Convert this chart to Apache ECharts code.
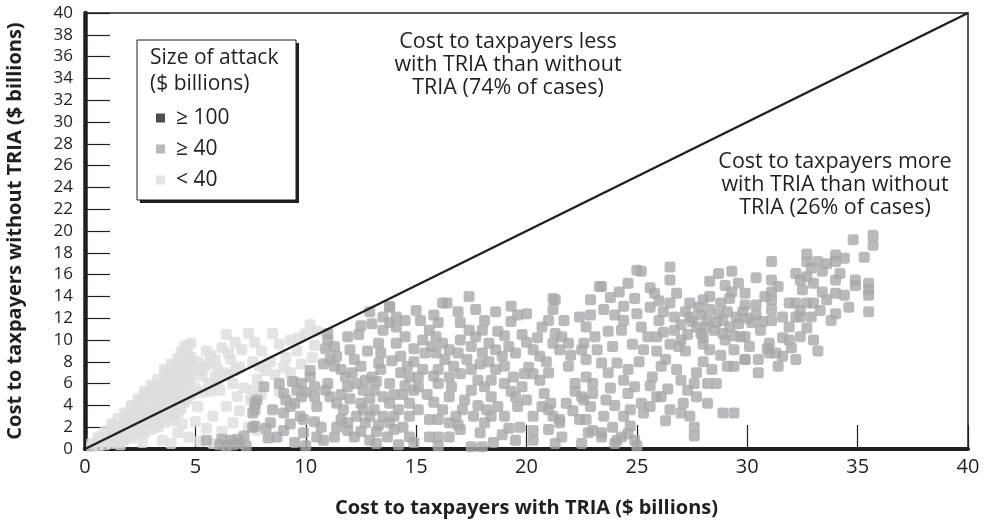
<!DOCTYPE html>
<html>
<head>
<meta charset="utf-8">
<script src="https://cdn.jsdelivr.net/npm/echarts@6/dist/echarts.min.js"></script>
<style>
html,body{margin:0;padding:0;background:#fff;}
#chart{width:984px;height:524px;}
</style>
</head>
<body>
<div id="chart"></div>
<script>
// ---- Data ----
var xTicks = [0, 5, 10, 15, 20, 25, 30, 35, 40];
var yTicks = [0, 2, 4, 6, 8, 10, 12, 14, 16, 18, 20, 22, 24, 26, 28, 30, 32, 34, 36, 38, 40];
var legendNames = ['\u2265 100', '\u2265 40', '< 40'];
var diagonal = [[0, 0], [40, 40]];

// attacks >= $100 billion (none visible)
var pointsGe100 = [];

// attacks < $40 billion
var pointsLt40 = [
[0.3,0.2],[0.3,0.5],
[0.6,0.3],[0.6,0.8],[0.6,1.1],
[0.9,0.4],[0.9,1.0],[0.9,1.6],
[1.2,0.5],[1.2,1.2],[1.2,1.9],[1.2,2.3],
[1.5,0.6],[1.5,1.3],[1.5,2.0],[1.5,2.8],
[1.8,0.9],[1.8,1.6],[1.8,2.4],[1.8,3.3],
[2.1,1.0],[2.1,1.8],[2.1,2.7],[2.1,3.5],[2.1,4.0],
[2.4,1.3],[2.4,2.1],[2.4,3.0],[2.4,3.8],[2.4,4.6],
[2.7,1.5],[2.7,2.4],[2.7,3.3],[2.7,4.1],[2.7,4.9],[2.7,5.3],
[3.0,1.8],[3.0,2.7],[3.0,3.5],[3.0,4.4],[3.0,5.2],[3.0,5.9],
[3.3,2.0],[3.3,3.0],[3.3,3.9],[3.3,4.7],[3.3,5.6],[3.3,6.4],
[3.6,2.4],[3.6,3.3],[3.6,4.2],[3.6,5.1],[3.6,6.0],[3.6,6.9],[3.6,7.3],
[3.9,2.9],[3.9,3.8],[3.9,4.6],[3.9,5.5],[3.9,6.3],[3.9,7.2],[3.9,7.8],
[4.2,3.2],[4.2,4.1],[4.2,5.0],[4.2,5.9],[4.2,6.8],[4.2,7.6],[4.2,8.3],
[4.5,4.3],[4.5,5.3],[4.5,6.2],[4.5,7.0],[4.5,7.9],[4.5,8.7],[4.5,9.4],
[4.8,5.0],[4.8,6.5],[4.8,7.5],[4.8,8.4],[4.8,9.7],
[1.35,0.9],[1.35,1.6],[1.95,1.3],[1.95,2.1],[1.95,3.0],[2.55,1.9],[2.55,2.8],[2.55,3.6],[2.55,4.4],
[3.15,2.3],[3.15,3.1],[3.15,4.0],[3.15,4.8],[3.15,5.6],[3.75,2.8],[3.75,3.7],[3.75,4.5],[3.75,5.4],
[3.75,6.3],[3.75,7.1],[4.35,3.7],[4.35,4.6],[4.35,5.5],[4.35,6.4],[4.35,7.3],[4.35,8.1],[4.35,8.9],
[4.65,4.6],[4.65,5.8],[4.65,6.8],[4.65,7.7],[4.65,8.6],[4.65,9.5],
[1.6,0.4],[1.7,0.8],[2.5,1.7],[2.6,0.6],[3.5,0.8],[3.9,0.5],[4.2,1.5],[4.7,1.1],[5.2,0.7],[5.8,0.5],
[5.5,1.9],[4.4,2.3],[4.0,2.6],[5.0,2.5],[5.8,3.0],[6.2,1.6],[6.7,2.4],[5.1,3.9],[6.4,3.9],[4.6,4.8],
[6.1,5.4],[6.9,4.8],[5.6,6.0],[6.7,6.0],[5.3,6.7],[7.0,7.5],[6.0,7.4],[5.1,8.0],[5.7,8.6],[6.6,8.2],
[5.5,9.0],[6.2,9.3],[7.1,9.1],[6.4,10.5],[7.4,10.6],[7.6,8.0],[8.0,9.0],[8.5,10.6],[8.2,7.2],[8.8,9.6],
[9.1,8.4],[9.3,10.0],[9.6,9.0],[10.0,10.6],[10.2,11.4],[10.5,10.8],[9.8,7.8],[9.3,7.0],[8.6,6.8],[7.8,6.4],
[7.2,5.6],[7.5,4.5],[7.0,3.5],[7.4,2.0],[8.0,5.0],[8.8,5.3],[9.5,6.2],[10.4,9.5],[10.3,8.4],[7.6,5.4],
[7.9,7.6],[7.7,9.8],[8.4,8.0],[9.0,7.5],[9.7,10.2],[7.8,1.7],[7.6,4.5],[5.3,5.2],[5.9,6.6],[6.3,7.0],
[6.8,9.8],[5.4,7.5],[5.0,5.6],[5.2,7.2],[5.6,7.8],[5.9,8.2],[6.5,8.8],[5.7,5.3],[6.0,6.2],[6.5,6.8],[6.8,7.2]
];

// attacks >= $40 billion
var pointsGe40 = [
[5.5,0.8],[6.1,0.4],[6.4,0.3],[6.7,0.4],[7.0,0.5],[6.9,0.9],[7.2,1.2],[7.3,0.3],[6.2,0.9],[6.6,0.8],
[7.6,2.0],[8.2,1.9],[8.1,5.7],[7.6,3.3],[7.8,4.5],[8.5,3.6],
[7.7,4.2],[7.7,3.6],[7.7,2.1],[8.4,2.4],[9.0,5.1],[9.1,4.5],[9.3,3.9],[9.0,3.3],[8.7,1.1],[9.0,1.7],
[9.6,5.4],[9.75,3.0],[9.9,2.7],[10.2,6.6],[10.4,5.7],[10.4,4.8],[10.5,3.9],[10.2,7.2],[10.5,1.1],[10.8,0.8],
[10.7,2.0],[11.0,10.0],[11.0,10.6],[11.1,8.2],[11.4,8.5],[11.3,7.6],[11.6,7.3],[11.0,6.0],[11.1,4.8],[11.4,4.2],
[11.7,3.6],[11.6,2.7],[11.4,2.0],[11.3,1.1],[11.9,10.3],[12.0,9.1],[12.2,8.2],[12.5,7.6],[11.9,5.7],[12.3,6.0],
[12.6,5.4],[12.7,6.3],[12.5,4.2],[12.6,3.6],[12.3,3.0],[12.7,2.4],[11.9,1.7],[12.2,1.1],[12.9,0.8],[13.3,9.7],
[13.4,8.8],[13.3,7.9],[13.4,7.3],[13.5,10.9],[13.8,13.0],[13.5,12.1],[14.1,11.2],[14.1,9.7],[14.3,8.5],[14.3,7.0],
[13.8,6.0],[13.5,4.8],[13.8,4.2],[13.5,3.0],[13.8,2.4],[13.7,1.1],[14.7,6.6],[14.9,5.4],[14.7,4.2],[14.7,3.0],
[14.7,1.1],[14.1,12.1],[13.2,0.5],[14.2,0.4],[14.0,1.8],[10.0,0.3],[9.5,0.6],[12.9,12.6],[13.0,11.5],[12.8,9.0],
[14.5,10.3],[14.9,8.0],[9.4,6.2],[8.8,6.0],[10.9,9.2],[12.4,10.5],
[9.5,4.2],[9.8,4.8],[10.0,5.2],[10.9,5.4],[11.6,5.0],[12.0,4.6],[12.9,4.6],[13.1,5.4],[13.1,3.6],[12.9,3.0],
[14.2,3.6],[14.4,2.0],[11.8,6.6],[12.1,7.0],[13.0,6.6],[14.4,5.0],[14.9,9.2],[14.5,11.8],[13.8,11.6],[12.5,11.3],
[11.3,9.4],[10.8,7.8],[9.9,1.5],[10.4,2.5],[11.9,2.4],[12.5,1.6],[13.2,1.6],[14.9,0.6],[8.3,1.0],[9.3,2.3],[9.8,6.0],
[13.2,6.2],[14.0,5.0],[14.5,5.8],[14.0,3.0],[13.3,2.2],[14.6,7.6],[13.9,8.1],
[17.4,14.0],[16.4,13.4],[15.8,12.3],[16.9,12.6],[17.7,12.8],[18.1,11.8],[18.6,12.6],[19.3,13.1],[19.3,11.7],[21.3,13.7],
[21.2,12.8],[21.0,11.8],[20.7,11.2],[21.3,10.6],[21.6,10.3],[21.2,9.7],[21.5,9.1],[21.9,9.7],[20.3,9.1],[20.6,8.5],
[22.4,12.1],[22.5,9.1],[15.6,10.9],[15.9,10.3],[16.2,9.7],[16.5,9.1],[15.7,9.4],[16.3,8.2],[16.0,7.3],[16.5,6.6],
[16.6,5.7],[16.5,4.8],[16.9,8.8],[17.4,10.9],[17.7,10.3],[17.5,9.4],[18.0,8.8],[18.3,9.7],[18.6,9.1],[18.9,8.5],
[19.2,9.4],[19.5,8.8],[17.5,7.3],[17.8,6.3],[18.1,5.7],[18.4,6.3],[18.6,7.3],[17.5,5.4],[17.2,4.5],[17.1,3.6],
[18.4,4.8],[18.7,3.9],[18.4,3.0],[19.0,3.0],[18.1,2.4],[19.5,4.8],[19.8,5.7],[19.6,3.9],[19.5,0.8],[20.3,6.9],
[20.6,6.3],[20.7,3.9],[21.0,3.6],[21.2,3.0],[21.5,2.4],[20.3,1.7],[21.6,1.1],[21.3,0.5],[21.9,7.6],[22.2,6.0],
[22.5,4.8],[22.4,2.7],[22.5,0.5],[15.4,8.8],[15.3,7.3],[15.1,6.6],[15.1,5.7],[15.1,3.6],[15.6,2.7],[16.0,2.7],
[16.5,2.4],[15.6,1.1],[16.0,1.1],[16.5,1.1],[17.5,0.2],[18.0,0.2],[16.8,3.0],[16.2,3.6],[16.2,13.4],[19.8,10.5],
[20.0,12.4],[19.0,10.4],[20.1,7.5],[19.0,6.0],[17.0,11.6],[15.2,11.8],[16.0,0.3],[19.7,2.0],[20.3,0.8],[20.8,5.1],
[18.9,1.3],[17.9,1.5],[15.0,12.7],[13.8,13.1],[21.2,13.8],[23.4,14.9],[25.0,16.4],[24.6,15.2],
[22.8,1.5],[23.4,1.5],[24.1,0.8],[24.9,0.8],[21.1,4.2],[21.5,2.7],
[15.3,10.0],[15.9,8.8],[16.7,7.6],[17.0,6.9],[17.3,8.2],[17.9,7.8],[18.3,8.0],[19.0,7.6],[19.4,6.6],[19.9,6.9],
[20.0,4.5],[20.3,3.0],[20.0,9.8],[18.0,10.9],[18.7,10.8],[17.0,10.0],[16.0,11.6],[19.6,12.3],[20.5,10.2],[21.7,11.8],
[22.0,8.6],[21.0,7.0],[20.9,8.0],[22.2,5.3],[21.8,4.2],[22.1,3.5],[21.0,1.8],[19.2,1.9],[18.5,0.6],[17.0,1.8],
[16.9,2.2],[15.8,4.3],[15.5,5.0],[16.0,6.0],[15.8,6.7],[17.8,4.0],[18.2,3.6],[19.3,5.3],[17.6,3.0],
[26.5,16.7],[25.2,16.3],[26.5,15.5],[29.3,16.3],[29.6,15.2],[28.3,15.4],[29.3,14.4],[29.9,14.3],
[23.3,14.9],[22.9,13.7],[23.5,12.8],[22.7,11.2],[23.7,10.8],[24.9,13.8],[24.4,13.1],[24.4,11.8],[24.3,10.9],[25.0,12.4],
[25.2,11.2],[25.5,10.3],[25.9,10.3],[25.3,9.1],[25.8,14.3],[26.8,14.3],[26.5,13.4],[26.7,12.1],[26.7,10.9],[27.0,10.0],
[27.4,13.4],[27.4,12.1],[27.7,11.2],[27.9,10.6],[28.3,14.0],[28.3,12.8],[28.2,11.8],[28.5,10.9],[28.3,9.1],[28.0,8.0],
[28.8,13.4],[28.9,11.8],[29.2,11.2],[29.5,12.1],[29.7,10.3],[29.4,9.1],[29.9,8.2],[29.1,7.6],[29.4,7.6],
[22.6,9.7],[22.7,8.2],[23.2,9.1],[23.4,7.9],[23.7,7.0],[24.1,7.9],[24.6,7.3],[24.4,6.3],[24.9,5.7],[24.6,5.1],
[23.0,6.0],[22.7,6.6],[23.0,5.1],[22.6,4.5],[22.9,3.9],[26.1,7.6],[25.9,4.8],[25.6,3.9],[25.3,3.3],[25.2,4.2],
[24.7,3.6],[24.4,3.0],[24.7,2.1],[24.3,1.1],[24.0,0.5],[23.4,1.1],[23.0,1.7],[22.7,2.7],
[26.8,7.3],[27.0,6.3],[27.3,5.4],[27.1,4.2],[27.0,3.3],[27.6,6.0],[27.7,4.8],[28.2,4.2],[27.6,2.0],[27.6,1.2],
[27.4,3.0],[28.6,6.0],[28.2,6.0],[28.9,3.3],[29.4,3.3],[25.0,0.3],[24.6,1.4],[26.1,4.8],
[23.8,13.9],[24.0,12.3],[25.6,13.0],[26.0,11.8],[26.2,12.6],[27.0,11.4],[27.2,9.0],[26.5,9.6],[25.9,9.0],[26.3,8.2],
[25.1,8.0],[24.8,9.6],[23.9,9.4],[23.1,10.3],[22.9,12.3],[27.7,7.0],[28.4,7.3],[28.8,8.6],[29.0,10.0],[28.0,9.6],
[27.8,13.0],[29.0,15.0],[28.7,16.1],[25.6,14.8],[24.2,14.4],[23.6,4.5],[24.0,4.0],[23.5,3.0],[23.9,2.0],[26.4,5.5],
[26.5,3.6],[26.3,2.6],[25.6,5.8],[25.7,6.6],[23.8,5.6],
[27.2,12.6],[27.5,11.7],[27.9,12.3],[28.1,11.2],[28.6,11.6],[28.7,12.4],[29.1,12.6],[29.6,11.5],[29.8,12.6],[27.3,10.5],
[28.0,10.2],[28.9,10.6],[29.4,10.4],[26.2,10.7],[26.0,13.6],[29.9,13.2],[28.0,13.7],[26.9,9.4],[30.0,12.0],[29.2,13.8],
[35.7,19.6],[35.7,18.7],[34.8,19.2],[32.7,17.9],[32.7,17.2],[34.0,17.8],[34.0,17.2],[33.2,17.2],[33.6,17.0],[34.4,17.5],
[31.1,17.2],[32.2,16.1],[32.7,15.8],[32.4,15.5],[33.0,15.2],[34.0,15.5],[34.2,16.1],[34.9,15.5],[34.9,15.0],[35.5,15.2],
[35.5,14.6],[35.5,14.1],[30.4,15.7],[31.1,15.5],[31.1,14.4],[31.1,13.7],[32.5,14.6],[33.4,14.4],[33.6,13.7],[34.0,14.3],
[34.4,14.1],[31.9,13.4],[32.2,13.4],[32.4,12.7],[32.7,13.4],[33.0,13.4],[32.2,12.1],[32.4,12.1],[34.0,12.4],[35.5,12.6],
[30.4,13.2],[30.4,12.3],[31.1,12.8],[31.1,11.8],[31.6,12.1],[30.7,11.7],[30.6,10.9],[31.9,11.2],[32.7,11.1],[32.4,10.3],
[33.0,10.0],[29.9,10.3],[30.1,9.4],[31.0,9.7],[31.6,10.2],[31.9,10.0],[31.0,8.8],[31.3,8.8],[31.6,8.5],[32.2,8.2],
[30.5,8.2],[31.4,7.6],[30.5,7.0],[29.9,8.2],
[31.4,14.9],[30.8,14.0],[33.4,16.3],[32.9,16.6],[33.3,12.7],[32.9,12.1],[33.8,11.8],[30.9,9.2],[32.0,9.3],[33.2,9.0],
[30.2,11.6],[35.3,17.6],[34.6,13.0]
];

// ---- Chart ----
var FONT = '"Open Sans", "Noto Sans", sans-serif';
var INK = '#231f20';
var chart = echarts.init(document.getElementById('chart'), null, {renderer: 'canvas'});

function scatter(name, data, color, z) {
  return {
    name: name, type: 'scatter', data: data, symbol: 'roundRect', symbolSize: 11,
    itemStyle: {color: color}, z: z, silent: true, animation: false
  };
}

var option = {
  animation: false,
  backgroundColor: '#ffffff',
  textStyle: {fontFamily: FONT, color: INK},
  grid: {left: 85, right: 16, top: 13, bottom: 75, outerBoundsMode: 'none', containLabel: false,
         show: true, borderColor: INK, borderWidth: 1.5, backgroundColor: 'transparent'},
  xAxis: {
    type: 'value', min: xTicks[0], max: xTicks[xTicks.length - 1], interval: xTicks[1] - xTicks[0],
    name: 'Cost to taxpayers with TRIA ($ billions)', nameLocation: 'middle', nameGap: 49,
    nameTextStyle: {fontSize: 20, fontWeight: 'bold', color: INK, fontFamily: FONT},
    axisLine: {lineStyle: {color: INK, width: 4}},
    axisTick: {inside: true, length: 24, lineStyle: {color: INK, width: 1.2}},
    axisLabel: {fontSize: 20, color: INK, margin: 8, fontFamily: FONT},
    splitLine: {show: false}
  },
  yAxis: {
    type: 'value', min: yTicks[0], max: yTicks[yTicks.length - 1], interval: yTicks[1] - yTicks[0],
    name: 'Cost to taxpayers without TRIA ($ billions)', nameLocation: 'middle', nameGap: 60,
    nameTextStyle: {fontSize: 20, fontWeight: 'bold', color: INK, fontFamily: FONT},
    axisLine: {lineStyle: {color: INK, width: 4.5}},
    axisTick: {inside: true, length: 25, lineStyle: {color: INK, width: 1.2}},
    axisLabel: {fontSize: 17, color: INK, margin: 12, fontFamily: FONT},
    splitLine: {show: false}
  },
  legend: {
    data: legendNames, orient: 'vertical', left: 156, top: 107, padding: 0,
    icon: 'rect', itemWidth: 9, itemHeight: 9, itemGap: 9,
    textStyle: {fontSize: 21, lineHeight: 22, color: INK, fontFamily: FONT, padding: [0, 0, 0, 6]},
    selectedMode: false, z: 20
  },
  graphic: [
    {type: 'rect', z: 10, shape: {x: 140, y: 43, width: 159, height: 160}, style: {fill: INK}},
    {type: 'rect', z: 11, shape: {x: 137, y: 40, width: 159, height: 160}, style: {fill: '#fff', stroke: INK, lineWidth: 1}},
    {type: 'text', z: 12, x: 150, y: 45, style: {text: 'Size of attack\n($ billions)', font: '21px ' + FONT, fill: INK, lineHeight: 26}},
    {type: 'text', z: 12, x: 508, y: 30, style: {text: 'Cost to taxpayers less\nwith TRIA than without\nTRIA (74% of cases)', font: '21.5px ' + FONT, fill: INK, align: 'center', lineHeight: 23}},
    {type: 'text', z: 12, x: 835, y: 150, style: {text: 'Cost to taxpayers more\nwith TRIA than without\nTRIA (26% of cases)', font: '21.5px ' + FONT, fill: INK, align: 'center', lineHeight: 23}}
  ],
  series: [
    scatter(legendNames[2], pointsLt40, '#dcddde', 2),
    scatter(legendNames[1], pointsGe40, '#a7a9ac', 3),
    scatter(legendNames[0], pointsGe100, INK, 4),
    {type: 'line', data: diagonal, symbol: 'none', silent: true, z: 5,
     lineStyle: {color: INK, width: 2.5}}
  ]
};
chart.setOption(option);
</script>
</body>
</html>
